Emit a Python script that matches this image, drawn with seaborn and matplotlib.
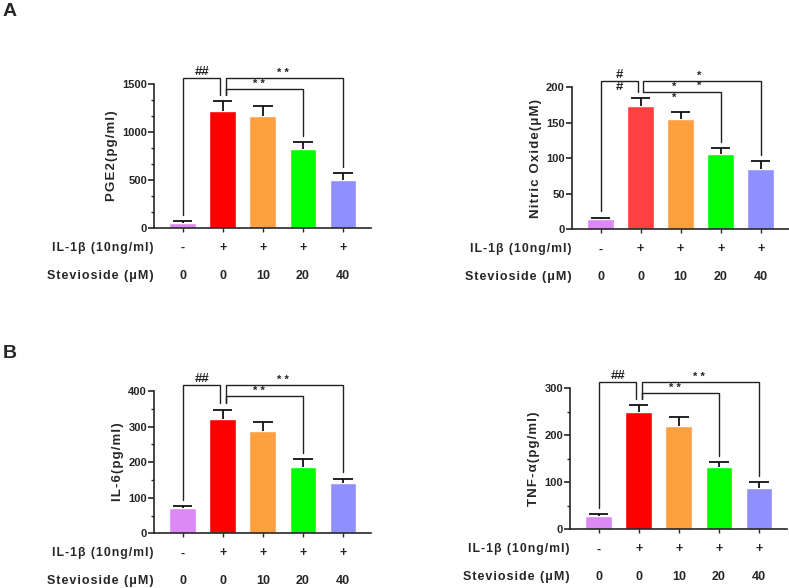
import matplotlib
matplotlib.use("Agg")
import matplotlib.pyplot as plt
import seaborn as sns
from matplotlib.ticker import MultipleLocator, AutoMinorLocator

# groups / row labels under the bars
groups = ["ctrl", "il1b", "s10", "s20", "s40"]
il1b_row = ["-", "+", "+", "+", "+"]
stevioside_row = ["0", "0", "10", "20", "40"]

# values (mean, upper error)
pge2_mean = [52, 1221, 1168, 820, 499]
pge2_err = [18, 101, 98, 76, 70]
no_mean = [14, 173, 155, 106, 85]
no_err = [2.4, 12, 10, 8.5, 10.5]
il6_mean = [72, 320, 288, 187, 142]
il6_err = [5, 27, 25, 21, 12]
tnf_mean = [28, 250, 219, 132, 88]
tnf_err = [4, 13, 20, 11, 12]

colors = ["#DD88F5", "#FF0000", "#FFA040", "#00FF00", "#8F8FFF"]
colors_no = ["#DD88F5", "#FF4040", "#FFA040", "#00FF00", "#8F8FFF"]

W, H = 789, 588
sns.set_style("ticks")
plt.rcParams["font.family"] = ["Liberation Sans", "DejaVu Sans"]
plt.rcParams["font.weight"] = "bold"
plt.rcParams["axes.labelweight"] = "bold"

fig = plt.figure(figsize=(W / 100, H / 100), dpi=100)


def spaced(s):
    # GraphPad-like loose letter spacing
    return "\u200a".join(s)


def make_ax(left, top, bottom, width=217):
    return fig.add_axes([left / W, 1 - bottom / H, width / W, (bottom - top) / H])


def bracket(ax, x1, x2, ytop, y1, y2):
    ax.plot([x1, x1, x2, x2], [y1, ytop, ytop, y2], color="#222222", lw=1.0,
            clip_on=False, solid_joinstyle="miter")


def panel(ax, mean, err, pal, ylabel, ymax, step, minor, stacked=False):
    sns.barplot(x=groups, y=mean, hue=groups, palette=pal, legend=False,
                width=0.67, ax=ax, saturation=1)
    # upper-only error bars (GraphPad style)
    top = [m + e for m, e in zip(mean, err)]
    ax.vlines(range(5), mean, top, color="#111111", lw=1.3)
    ax.hlines(top, [i - 0.24 for i in range(5)], [i + 0.24 for i in range(5)],
              color="#111111", lw=1.3)
    ax.set_xlim(-0.72, 4.7)
    ax.set_ylim(0, ymax)
    ax.yaxis.set_major_locator(MultipleLocator(step))
    if minor > 1:
        ax.yaxis.set_minor_locator(AutoMinorLocator(minor))
    ax.spines["left"].set_bounds(0, ymax)
    sns.despine(ax=ax)
    for s in ["left", "bottom"]:
        ax.spines[s].set_linewidth(1.2)
    ax.set_xticks(range(5))
    ax.set_xticklabels([])
    ax.tick_params(axis="x", length=3, width=1.0)
    ax.tick_params(axis="y", which="major", length=4, width=1.2, labelsize=8, pad=1)
    ax.tick_params(axis="y", which="minor", length=2.5, width=1.0)
    ax.set_ylabel(spaced(ylabel), fontsize=9.5, fontweight="bold", labelpad=3)
    ax.set_xlabel("")

    # significance brackets
    gap = 0.045 * ymax
    tops = [t + gap for t in top]
    outer, inner = 1.045 * ymax, 0.965 * ymax
    bracket(ax, 0, 1 - 0.07, outer, tops[0], tops[1])
    bracket(ax, 1 + 0.07, 4, outer, tops[1], tops[4])
    bracket(ax, 1 + 0.07, 3, inner, tops[1], tops[3])
    if stacked:
        ax.text(0.47, outer, "#\n#", ha="center", va="center", fontsize=9.5,
                linespacing=1.0, clip_on=False)
        ax.text(2.47, outer, "*\n*", ha="center", va="center", fontsize=8,
                linespacing=1.1, clip_on=False)
        ax.text(1.85, inner, "*\n*", ha="center", va="center", fontsize=8,
                linespacing=1.1, clip_on=False)
    else:
        ax.text(0.47, outer, "##", ha="center", va="bottom", fontsize=9.5, clip_on=False)
        ax.text(2.5, outer, "* *", ha="center", va="bottom", fontsize=8, clip_on=False)
        ax.text(1.9, inner, "* *", ha="center", va="bottom", fontsize=8, clip_on=False)

    # treatment rows under the axis
    h = ax.get_position().height * H
    r1, r2 = -20 / h, -48 / h
    trans = ax.get_xaxis_transform()
    ax.text(0.0, r1, spaced("IL-1β (10ng/ml)"), transform=ax.transAxes, ha="right",
            va="center", fontsize=8.8)
    ax.text(0.0, r2, spaced("Stevioside (μM)"), transform=ax.transAxes, ha="right",
            va="center", fontsize=9)
    for i in range(5):
        ax.text(i, r1, il1b_row[i], transform=trans, ha="center", va="center", fontsize=9)
        ax.text(i, r2, stevioside_row[i], transform=trans, ha="center", va="center",
                fontsize=9)


ax1 = make_ax(154, 84, 228)
panel(ax1, pge2_mean, pge2_err, colors, "PGE2(pg/ml)", 1500, 500, 3)
ax2 = make_ax(571.7, 87.3, 229.3)
panel(ax2, no_mean, no_err, colors_no, "Nitric Oxide(μM)", 200, 50, 1, stacked=True)
ax3 = make_ax(154, 391, 533.3)
panel(ax3, il6_mean, il6_err, colors, "IL-6(pg/ml)", 400, 100, 2)
ax4 = make_ax(570, 388, 529.3)
panel(ax4, tnf_mean, tnf_err, colors, "TNF-α(pg/ml)", 300, 100, 2)

fig.text(3 / W, 1 - 3 / H, "A", ha="left", va="top", fontsize=14, fontweight="bold")
fig.text(3 / W, 1 - 345 / H, "B", ha="left", va="top", fontsize=14, fontweight="bold")

fig.savefig("out.png", dpi=100)
